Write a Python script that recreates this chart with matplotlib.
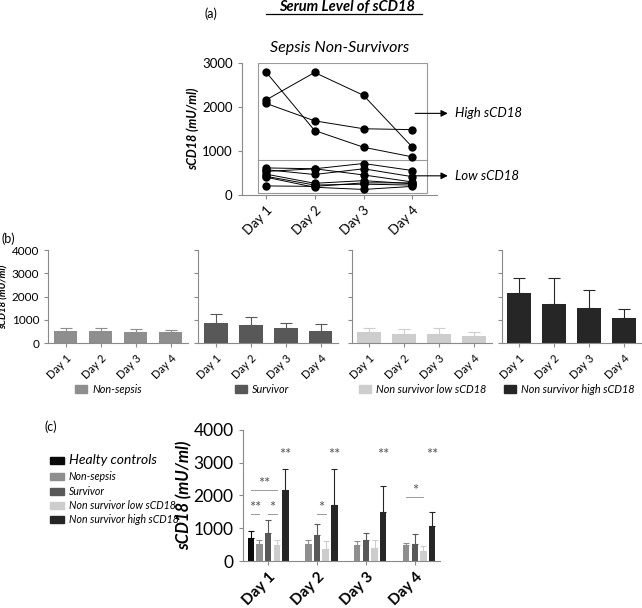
import numpy as np
import matplotlib
matplotlib.use("Agg")
import matplotlib.pyplot as plt
from matplotlib.patches import Rectangle

plt.rcParams['font.family'] = ['Lato', 'DejaVu Sans']

# ---- data ----
days = ["Day 1", "Day 2", "Day 3", "Day 4"]

# panel (a): individual non-survivor patients
high_patients = [
    [2810, 1470, 1090, 870],
    [2160, 2790, 2270, 1090],
    [2090, 1690, 1510, 1490],
]
low_patients = [
    [620, 600, 720, 560],
    [580, 470, 600, 420],
    [540, 600, 460, 300],
    [480, 270, 330, 260],
    [430, 230, 250, 230],
    [410, 180, 130, 200],
    [210, 200, 280, 280],
]
cutoff = 810

# group means and SD (panels b and c)
groups = ["Non-sepsis", "Survivor", "Non survivor low sCD18", "Non survivor high sCD18"]
group_colors = ["#8e8e8e", "#585858", "#cdcdcd", "#262626"]
non_sepsis_mean = [510, 520, 480, 490]
non_sepsis_sd = [130, 130, 120, 70]
survivor_mean = [850, 790, 640, 510]
survivor_sd = [390, 325, 210, 320]
ns_low_mean = [500, 380, 400, 310]
ns_low_sd = [135, 225, 250, 155]
ns_high_mean = [2170, 1700, 1510, 1080]
ns_high_sd = [640, 1100, 765, 410]
healthy_mean = 710
healthy_sd = 210

means = [non_sepsis_mean, survivor_mean, ns_low_mean, ns_high_mean]
sds = [non_sepsis_sd, survivor_sd, ns_low_sd, ns_high_sd]

spine_col = "#8a8a8a"
x = np.arange(1, 5)


def style_axes(ax):
    for s in ["top", "right"]:
        ax.spines[s].set_visible(False)
    for s in ["left", "bottom"]:
        ax.spines[s].set_color(spine_col)
        ax.spines[s].set_linewidth(0.8)
    ax.tick_params(colors=spine_col, width=0.8, length=3, labelcolor="black")


fig = plt.figure(figsize=(6.42, 6.08), dpi=100)

# ---------------- panel (a) ----------------
axa = fig.add_axes([0.3765, 0.679, 0.304, 0.217])
for row in high_patients + low_patients:
    axa.plot(x, row, "-o", color="black", lw=0.7, ms=5)
axa.add_patch(Rectangle((0.84, 50), 4.29 - 0.84, 2950, fill=False,
                        ec="#999999", lw=0.8, zorder=0))
axa.plot([0.84, 4.29], [cutoff, cutoff], color="#999999", lw=0.8, zorder=0)
axa.set_xlim(0.51, 4.5)
axa.set_ylim(0, 3000)
axa.set_yticks([0, 1000, 2000, 3000])
axa.set_xticks(x)
axa.set_xticklabels(days, rotation=45, ha="right", rotation_mode="anchor", fontsize=9.5)
axa.tick_params(axis="y", labelsize=9.5)
style_axes(axa)
axa.set_ylabel("sCD18 (mU/ml)", fontsize=9, fontweight="bold", fontstyle="italic", labelpad=2)
axa.set_title("Sepsis Non-Survivors", fontsize=11.5, fontstyle="italic", pad=8)
axa.annotate("", xy=(4.78, 1860), xytext=(4.0, 1860),
             arrowprops=dict(arrowstyle="-|>", color="black", lw=0.8), annotation_clip=False)
axa.text(4.88, 1860, "High sCD18", fontsize=9.5, fontstyle="italic", va="center")
axa.annotate("", xy=(4.78, 440), xytext=(4.0, 440),
             arrowprops=dict(arrowstyle="-|>", color="black", lw=0.8), annotation_clip=False)
axa.text(4.88, 440, "Low sCD18", fontsize=9.5, fontstyle="italic", va="center")

fig.text(0.318, 0.978, "(a)", fontsize=9, va="center")
fig.text(0.541, 0.988, "Serum Level of sCD18", fontsize=10.5, fontweight="bold",
         fontstyle="italic", ha="center", va="center")
fig.add_artist(plt.Line2D([0.415, 0.658], [0.9765, 0.9765], color="black", lw=0.9))

# ---------------- panel (b) ----------------
lefts = [0.0752, 0.3089, 0.5478, 0.7815]
swatch_x = [0.117, 0.366, 0.559, 0.785]
for i, (left, g, col) in enumerate(zip(lefts, groups, group_colors)):
    ax = fig.add_axes([left, 0.4354, 0.218, 0.1534])
    ax.bar(x, means[i], width=0.67, color=col, zorder=2)
    ax.errorbar(x, means[i], yerr=[np.zeros(4), sds[i]], fmt="none", ecolor=col,
                elinewidth=0.8, capsize=4, capthick=0.8, zorder=1)
    ax.set_xlim(0.5, 4.5)
    ax.set_ylim(0, 4000)
    ax.set_yticks([0, 1000, 2000, 3000, 4000])
    ax.set_xticks(x)
    ax.set_xticklabels(days, rotation=45, ha="right", rotation_mode="anchor", fontsize=8)
    style_axes(ax)
    if i == 0:
        ax.tick_params(axis="y", labelsize=8.5)
        ax.set_ylabel("sCD18 (mU/ml)", fontsize=7, fontweight="bold",
                      fontstyle="italic", labelpad=2)
    else:
        ax.set_yticklabels([])
    # legend swatch under each panel
    lx = swatch_x[i]
    fig.add_artist(Rectangle((lx, 0.354), 0.019, 0.012, transform=fig.transFigure,
                             color=col))
    fig.text(lx + 0.027, 0.360, g, fontsize=7.8, fontstyle="italic", va="center")

fig.text(0.003, 0.607, "(b)", fontsize=9, va="center")

# ---------------- panel (c) ----------------
axc = fig.add_axes([0.378, 0.0773, 0.307, 0.2155])
w = 0.13
step = 0.177
axc.bar(1 - 2 * step, healthy_mean, width=w, color="#0a0a0a", zorder=2)
axc.errorbar(1 - 2 * step, healthy_mean, yerr=[[0], [healthy_sd]], fmt="none",
             ecolor="#0a0a0a", elinewidth=0.8, capsize=2.5, capthick=0.8, zorder=1)
for i, col in enumerate(group_colors):
    pos = x + (i - 1) * step
    axc.bar(pos, means[i], width=w, color=col, zorder=2)
    axc.errorbar(pos, means[i], yerr=[np.zeros(4), sds[i]], fmt="none", ecolor=col,
                 elinewidth=0.8, capsize=2.5, capthick=0.8, zorder=1)

# significance marks
sig_col = "#555555"
for d in x:
    axc.text(d + 2 * step, 3020, "**", ha="center", va="bottom", fontsize=10.5, color=sig_col)


def bracket(x0, x1, y, label):
    axc.plot([x0, x1], [y, y], color="#9a9a9a", lw=0.7)
    axc.text((x0 + x1) / 2, y - 30, label, ha="center", va="bottom", fontsize=10.5, color=sig_col)


bracket(1 - 2 * step, 1 + step, 2170, "**")
bracket(1 - 2 * step, 1 - step, 1430, "**")
bracket(1, 1 + step, 1430, "*")
bracket(2, 2 + step, 1430, "*")
bracket(4 - step, 4 + step, 1960, "*")

axc.set_xlim(0.48, 4.51)
axc.set_ylim(0, 4000)
axc.set_yticks([0, 1000, 2000, 3000, 4000])
axc.set_xticks(x)
axc.set_xticklabels(days, rotation=45, ha="right", rotation_mode="anchor",
                    fontsize=11, fontweight="bold")
axc.tick_params(axis="y", labelsize=12.5)
style_axes(axc)
axc.set_ylabel("sCD18 (mU/ml)", fontsize=12, fontweight="bold", fontstyle="italic", labelpad=1)

fig.text(0.07, 0.298, "(c)", fontsize=9, va="center")

# legend for panel (c)
leg_labels = ["Healty controls"] + groups
leg_colors = ["#0a0a0a"] + group_colors
leg_y = [0.243, 0.216, 0.192, 0.169, 0.145]
for lab, col, yy in zip(leg_labels, leg_colors, leg_y):
    fig.add_artist(Rectangle((0.078, yy - 0.006), 0.021, 0.012, transform=fig.transFigure,
                             color=col))
    fs = 10 if lab == "Healty controls" else 7.6
    fig.text(0.107, yy, lab, fontsize=fs, fontstyle="italic", va="center")

fig.savefig("out.png", dpi=100)
